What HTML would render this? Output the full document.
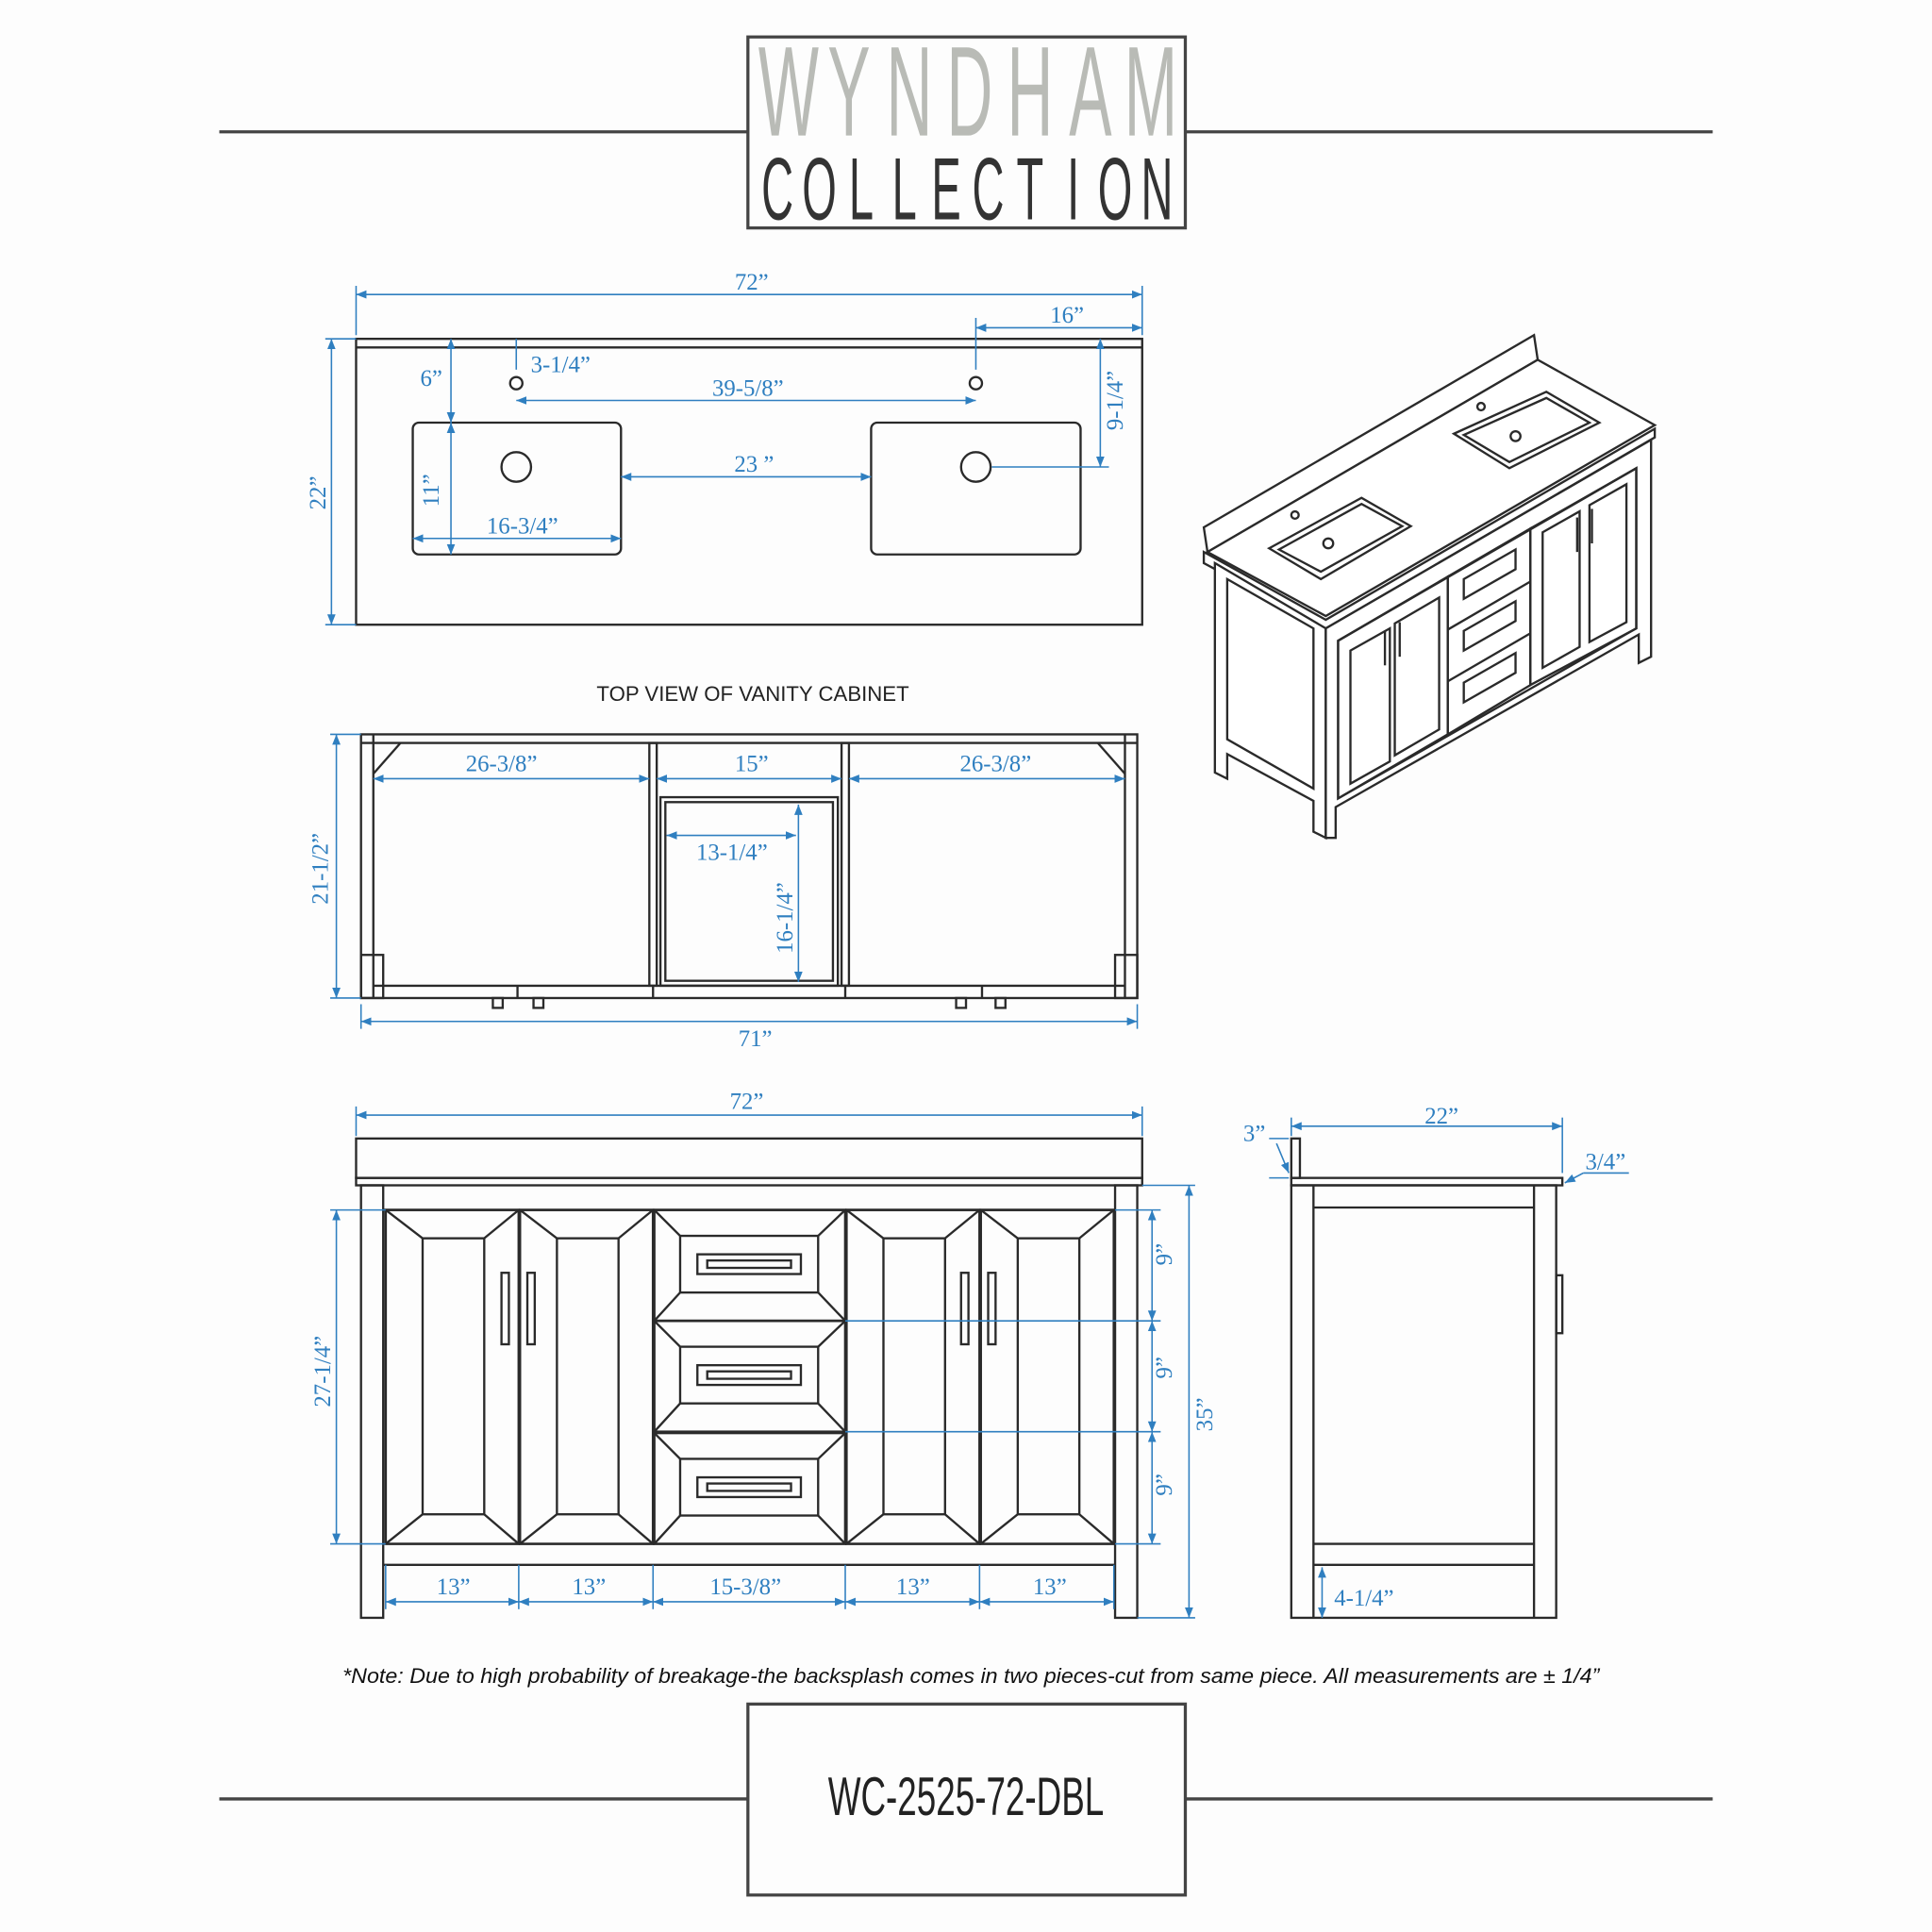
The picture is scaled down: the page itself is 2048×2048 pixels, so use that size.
<!DOCTYPE html>
<html><head><meta charset="utf-8">
<style>
html,body{margin:0;padding:0;background:#fdfdfd;}
svg{display:block;}
.d{stroke:#2f7fc0;stroke-width:1.2;fill:none}
.t{font-family:"Liberation Serif",serif;font-size:19px;fill:#2f7fc0}
.k{stroke:#2a2a2a;stroke-width:1.8;fill:none}
</style></head>
<body>
<svg width="2048" height="2048" viewBox="0 0 1568 1568" xmlns="http://www.w3.org/2000/svg">
<defs>
<marker id="a" viewBox="0 0 10 10" refX="10" refY="5" markerWidth="7" markerHeight="7" orient="auto-start-reverse"><path d="M0,1 L10,5 L0,9 z" fill="#2f7fc0"/></marker>
</defs>
<rect width="1568" height="1568" fill="#fdfdfd"/>

<!-- header -->
<line x1="178" y1="107" x2="607" y2="107" stroke="#444" stroke-width="2.5"/>
<line x1="962" y1="107" x2="1390" y2="107" stroke="#444" stroke-width="2.5"/>
<rect x="607" y="30" width="355" height="155" fill="none" stroke="#444" stroke-width="2.5"/>
<g transform="scale(0.5,1)">
<text x="1280 1378 1476 1574 1672 1770 1868" y="110" text-anchor="middle" font-family="Liberation Sans,sans-serif" font-size="104" fill="#b9bbb6">WYNDHAM</text>
<text x="1262 1330 1398 1468 1536 1604 1672 1742 1810 1878" y="178" text-anchor="middle" font-family="Liberation Sans,sans-serif" font-size="72" fill="#333">COLLECTION</text>
</g>

<!-- top view countertop -->
<rect x="289" y="275" width="638" height="232" class="k"/>
<line x1="289" y1="282" x2="927" y2="282" class="k"/>
<rect x="335" y="343" width="169" height="107" rx="5" class="k"/>
<rect x="707" y="343" width="170" height="107" rx="5" class="k"/>
<circle cx="419" cy="379" r="12" class="k"/>
<circle cx="792" cy="379" r="12" class="k"/>
<circle cx="419" cy="311" r="5" class="k"/>
<circle cx="792" cy="311" r="5" class="k"/>

<g class="d">
<line x1="289" y1="239" x2="927" y2="239" marker-start="url(#a)" marker-end="url(#a)"/>
<line x1="289" y1="232" x2="289" y2="272"/><line x1="927" y1="232" x2="927" y2="272"/>
<line x1="792" y1="266" x2="927" y2="266" marker-start="url(#a)" marker-end="url(#a)"/>
<line x1="792" y1="258" x2="792" y2="300"/>
<line x1="269" y1="275" x2="269" y2="507" marker-start="url(#a)" marker-end="url(#a)"/>
<line x1="264" y1="275" x2="289" y2="275"/><line x1="264" y1="507" x2="289" y2="507"/>
<line x1="366" y1="275" x2="366" y2="343" marker-start="url(#a)" marker-end="url(#a)"/>
<line x1="419" y1="275" x2="419" y2="300"/>
<line x1="419" y1="325" x2="792" y2="325" marker-start="url(#a)" marker-end="url(#a)"/>
<line x1="504" y1="387" x2="707" y2="387" marker-start="url(#a)" marker-end="url(#a)"/>
<line x1="366" y1="343" x2="366" y2="450" marker-start="url(#a)" marker-end="url(#a)"/>
<line x1="335" y1="437" x2="504" y2="437" marker-start="url(#a)" marker-end="url(#a)"/>
<line x1="893" y1="275" x2="893" y2="379" marker-start="url(#a)" marker-end="url(#a)"/>
<line x1="805" y1="379" x2="900" y2="379"/>
</g>
<text class="t" x="610" y="235" text-anchor="middle">72”</text>
<text class="t" x="866" y="262" text-anchor="middle">16”</text>
<text class="t" x="350" y="313" text-anchor="middle">6”</text>
<text class="t" x="455" y="302" text-anchor="middle">3-1/4”</text>
<text class="t" x="607" y="321" text-anchor="middle">39-5/8”</text>
<text class="t" x="612" y="383" text-anchor="middle">23 ”</text>
<text class="t" x="424" y="433" text-anchor="middle">16-3/4”</text>
<text class="t" transform="translate(264,400) rotate(-90)" text-anchor="middle">22”</text>
<text class="t" transform="translate(356,398) rotate(-90)" text-anchor="middle">11”</text>
<text class="t" transform="translate(911,325) rotate(-90)" text-anchor="middle">9-1/4”</text>

<text x="611" y="569" text-anchor="middle" font-family="Liberation Sans,sans-serif" font-size="17" fill="#222">TOP VIEW OF VANITY CABINET</text>

<!-- cabinet top view -->
<g class="k">
<rect x="293" y="596" width="630" height="214"/>
<line x1="303" y1="596" x2="303" y2="810"/><line x1="913" y1="596" x2="913" y2="810"/>
<line x1="293" y1="603" x2="923" y2="603"/>
<line x1="303" y1="628" x2="325" y2="603"/><line x1="913" y1="628" x2="891" y2="603"/>
<rect x="527" y="603" width="6" height="197"/><rect x="683" y="603" width="6" height="197"/>
<rect x="536" y="647" width="144" height="153"/>
<rect x="540" y="651" width="136" height="145"/>
<line x1="303" y1="800" x2="913" y2="800"/>
<line x1="420" y1="800" x2="420" y2="810"/><line x1="797" y1="800" x2="797" y2="810"/>
<line x1="530" y1="800" x2="530" y2="810"/><line x1="686" y1="800" x2="686" y2="810"/>
<rect x="293" y="775" width="18" height="35"/><rect x="905" y="775" width="18" height="35"/>
<rect x="400" y="810" width="8" height="8"/><rect x="433" y="810" width="8" height="8"/>
<rect x="776" y="810" width="8" height="8"/><rect x="808" y="810" width="8" height="8"/>
</g>
<g class="d">
<line x1="303" y1="632" x2="527" y2="632" marker-start="url(#a)" marker-end="url(#a)"/>
<line x1="533" y1="632" x2="683" y2="632" marker-start="url(#a)" marker-end="url(#a)"/>
<line x1="689" y1="632" x2="913" y2="632" marker-start="url(#a)" marker-end="url(#a)"/>
<line x1="541" y1="678" x2="646" y2="678" marker-start="url(#a)" marker-end="url(#a)"/>
<line x1="648" y1="653" x2="648" y2="797" marker-start="url(#a)" marker-end="url(#a)"/>
<line x1="273" y1="596" x2="273" y2="810" marker-start="url(#a)" marker-end="url(#a)"/>
<line x1="268" y1="596" x2="293" y2="596"/><line x1="268" y1="810" x2="293" y2="810"/>
<line x1="293" y1="829" x2="923" y2="829" marker-start="url(#a)" marker-end="url(#a)"/>
<line x1="293" y1="815" x2="293" y2="835"/><line x1="923" y1="815" x2="923" y2="835"/>
</g>
<text class="t" x="407" y="626" text-anchor="middle">26-3/8”</text>
<text class="t" x="610" y="626" text-anchor="middle">15”</text>
<text class="t" x="808" y="626" text-anchor="middle">26-3/8”</text>
<text class="t" x="594" y="698" text-anchor="middle">13-1/4”</text>
<text class="t" transform="translate(643,745) rotate(-90)" text-anchor="middle">16-1/4”</text>
<text class="t" transform="translate(266,705) rotate(-90)" text-anchor="middle">21-1/2”</text>
<text class="t" x="613" y="849" text-anchor="middle">71”</text>

<!-- front elevation -->
<g class="k">
<rect x="289" y="924" width="638" height="32"/>
<rect x="289" y="956" width="638" height="6"/>
<rect x="293" y="962" width="18" height="351"/>
<rect x="905" y="962" width="18" height="351"/>
<line x1="311" y1="982" x2="905" y2="982"/>
<line x1="311" y1="1270" x2="905" y2="1270"/>
</g>
<g class="k" stroke-width="1.4">
<g id="door"><rect x="313" y="982" width="108" height="271" stroke-width="2"/>
<rect x="343" y="1005" width="50" height="224"/>
<line x1="313" y1="982" x2="343" y2="1005"/><line x1="421" y1="982" x2="393" y2="1005"/>
<line x1="313" y1="1253" x2="343" y2="1229"/><line x1="421" y1="1253" x2="393" y2="1229"/></g>
<use href="#door" x="109"/>
<use href="#door" x="374"/>
<use href="#door" x="483"/>
<rect x="407" y="1033" width="6" height="58"/>
<rect x="428" y="1033" width="6" height="58"/>
<rect x="780" y="1033" width="6" height="58"/>
<rect x="802" y="1033" width="6" height="58"/>
<g id="dr"><rect x="531" y="982" width="155" height="90" stroke-width="2"/>
<rect x="552" y="1003" width="112" height="46"/>
<line x1="531" y1="982" x2="552" y2="1003"/><line x1="686" y1="982" x2="664" y2="1003"/>
<line x1="531" y1="1072" x2="552" y2="1049"/><line x1="686" y1="1072" x2="664" y2="1049"/>
<rect x="566" y="1018" width="84" height="16"/><rect x="574" y="1023" width="68" height="6"/></g>
<use href="#dr" y="90"/>
<use href="#dr" y="181"/>
</g>
<g class="d">
<line x1="289" y1="905" x2="927" y2="905" marker-start="url(#a)" marker-end="url(#a)"/>
<line x1="289" y1="898" x2="289" y2="922"/><line x1="927" y1="898" x2="927" y2="922"/>
<line x1="273" y1="982" x2="273" y2="1253" marker-start="url(#a)" marker-end="url(#a)"/>
<line x1="268" y1="982" x2="313" y2="982"/><line x1="268" y1="1253" x2="313" y2="1253"/>
<line x1="935" y1="982" x2="935" y2="1072" marker-start="url(#a)" marker-end="url(#a)"/>
<line x1="935" y1="1072" x2="935" y2="1162" marker-start="url(#a)" marker-end="url(#a)"/>
<line x1="935" y1="1162" x2="935" y2="1253" marker-start="url(#a)" marker-end="url(#a)"/>
<line x1="686" y1="1072" x2="942" y2="1072"/><line x1="686" y1="1162" x2="942" y2="1162"/>
<line x1="905" y1="982" x2="942" y2="982"/><line x1="905" y1="1253" x2="942" y2="1253"/>
<line x1="965" y1="962" x2="965" y2="1313" marker-start="url(#a)" marker-end="url(#a)"/>
<line x1="927" y1="962" x2="970" y2="962"/><line x1="923" y1="1313" x2="970" y2="1313"/>
<line x1="313" y1="1300" x2="421" y2="1300" marker-start="url(#a)" marker-end="url(#a)"/>
<line x1="421" y1="1300" x2="530" y2="1300" marker-start="url(#a)" marker-end="url(#a)"/>
<line x1="530" y1="1300" x2="686" y2="1300" marker-start="url(#a)" marker-end="url(#a)"/>
<line x1="686" y1="1300" x2="795" y2="1300" marker-start="url(#a)" marker-end="url(#a)"/>
<line x1="795" y1="1300" x2="904" y2="1300" marker-start="url(#a)" marker-end="url(#a)"/>
<line x1="313" y1="1270" x2="313" y2="1306"/><line x1="421" y1="1270" x2="421" y2="1306"/>
<line x1="530" y1="1270" x2="530" y2="1306"/><line x1="686" y1="1270" x2="686" y2="1306"/>
<line x1="795" y1="1270" x2="795" y2="1306"/><line x1="904" y1="1270" x2="904" y2="1306"/>
</g>
<text class="t" x="606" y="900" text-anchor="middle">72”</text>
<text class="t" transform="translate(268,1113) rotate(-90)" text-anchor="middle">27-1/4”</text>
<text class="t" transform="translate(951,1018) rotate(-90)" text-anchor="middle">9”</text>
<text class="t" transform="translate(951,1110) rotate(-90)" text-anchor="middle">9”</text>
<text class="t" transform="translate(951,1205) rotate(-90)" text-anchor="middle">9”</text>
<text class="t" transform="translate(984,1148) rotate(-90)" text-anchor="middle">35”</text>
<text class="t" x="368" y="1294" text-anchor="middle">13”</text>
<text class="t" x="478" y="1294" text-anchor="middle">13”</text>
<text class="t" x="605" y="1294" text-anchor="middle">15-3/8”</text>
<text class="t" x="741" y="1294" text-anchor="middle">13”</text>
<text class="t" x="852" y="1294" text-anchor="middle">13”</text>

<!-- side elevation -->
<g class="k">
<rect x="1048" y="924" width="7" height="32"/>
<rect x="1048" y="956" width="220" height="6"/>
<rect x="1048" y="962" width="215" height="351"/>
<line x1="1066" y1="962" x2="1066" y2="1313"/>
<line x1="1245" y1="962" x2="1245" y2="1313"/>
<line x1="1066" y1="980" x2="1245" y2="980"/>
<line x1="1066" y1="1253" x2="1245" y2="1253"/>
<line x1="1066" y1="1270" x2="1245" y2="1270"/>
<rect x="1263" y="1035" width="5" height="47"/>
</g>
<g class="d">
<line x1="1048" y1="914" x2="1268" y2="914" marker-start="url(#a)" marker-end="url(#a)"/>
<line x1="1048" y1="907" x2="1048" y2="922"/><line x1="1268" y1="907" x2="1268" y2="952"/>
<line x1="1030" y1="924" x2="1046" y2="924"/><line x1="1030" y1="956" x2="1046" y2="956"/>
<line x1="1036" y1="928" x2="1046" y2="952" marker-end="url(#a)"/>
<line x1="1322" y1="952" x2="1285" y2="952"/><line x1="1285" y1="952" x2="1270" y2="960" marker-end="url(#a)"/>
<line x1="1073" y1="1272" x2="1073" y2="1313" marker-start="url(#a)" marker-end="url(#a)"/>
</g>
<text class="t" x="1170" y="912" text-anchor="middle">22”</text>
<text class="t" x="1018" y="926" text-anchor="middle">3”</text>
<text class="t" x="1303" y="949" text-anchor="middle">3/4”</text>
<text class="t" x="1107" y="1303" text-anchor="middle">4-1/4”</text>

<!-- isometric view -->
<g class="k" stroke-width="1.5">
<polygon points="977,428 1245,272 1248,292 980,448" fill="#fff"/>
<polygon points="980,448 1248,292 1343,345 1076,500" fill="#fff"/>
<polygon points="977,448 1076,503 1343,348 1343,355 1076,510 977,457" fill="#fff"/>
<polygon points="986,457 1076,510 1076,680 1066,675 1066,650 996,612 996,632 986,627" fill="#fff"/>
<polygon points="996,470 1066,510 1066,640 996,600"/>
<polygon points="1076,510 1340,357 1340,533 1330,538 1330,515 1084,655 1084,680 1076,680" fill="#fff"/>
<polygon points="1086,520 1328,380 1328,510 1086,648"/>
<polygon points="1086,520 1175,468 1175,596 1086,648"/>
<polygon points="1096,528 1128,510 1128,618 1096,636"/>
<polygon points="1132,506 1168,485 1168,592 1132,613"/>
<polygon points="1175,468 1242,429 1242,556 1175,596"/>
<line x1="1175" y1="511" x2="1242" y2="472"/><line x1="1175" y1="553" x2="1242" y2="514"/>
<polygon points="1188,470 1230,446 1230,462 1188,486"/>
<polygon points="1188,512 1230,488 1230,504 1188,528"/>
<polygon points="1188,554 1230,530 1230,546 1188,570"/>
<polygon points="1242,429 1328,380 1328,510 1242,556"/>
<polygon points="1252,432 1282,415 1282,525 1252,542"/>
<polygon points="1290,410 1320,393 1320,505 1290,521"/>
<line x1="1124" y1="512" x2="1124" y2="540"/><line x1="1136" y1="505" x2="1136" y2="533"/>
<line x1="1280" y1="420" x2="1280" y2="448"/><line x1="1292" y1="413" x2="1292" y2="441"/>
<path d="M1030,445 L1105,404 L1145,427 L1072,470 Z" fill="#fff"/>
<path d="M1038,446 L1105,409 L1138,427 L1072,464 Z"/>
<path d="M1180,352 L1255,318 L1298,343 L1225,380 Z" fill="#fff"/>
<path d="M1188,353 L1255,323 L1290,343 L1225,375 Z"/>
<circle cx="1078" cy="441" r="4"/><circle cx="1051" cy="418" r="3"/>
<circle cx="1230" cy="354" r="4"/><circle cx="1202" cy="330" r="3"/>
</g>

<text x="278" y="1366" textLength="1020" lengthAdjust="spacingAndGlyphs" font-family="Liberation Sans,sans-serif" font-style="italic" font-size="17" fill="#111">*Note: Due to high probability of breakage-the backsplash comes in two pieces-cut from same piece.  All measurements are ± 1/4”</text>

<!-- bottom -->
<line x1="178" y1="1460" x2="607" y2="1460" stroke="#444" stroke-width="2.5"/>
<line x1="962" y1="1460" x2="1390" y2="1460" stroke="#444" stroke-width="2.5"/>
<rect x="607" y="1383" width="355" height="155" fill="none" stroke="#444" stroke-width="2.5"/>
<text x="672" y="1473" textLength="224" lengthAdjust="spacingAndGlyphs" font-family="Liberation Sans Narrow,Liberation Sans,sans-serif" font-size="44" fill="#222">WC-2525-72-DBL</text>
</svg>
</body></html>
